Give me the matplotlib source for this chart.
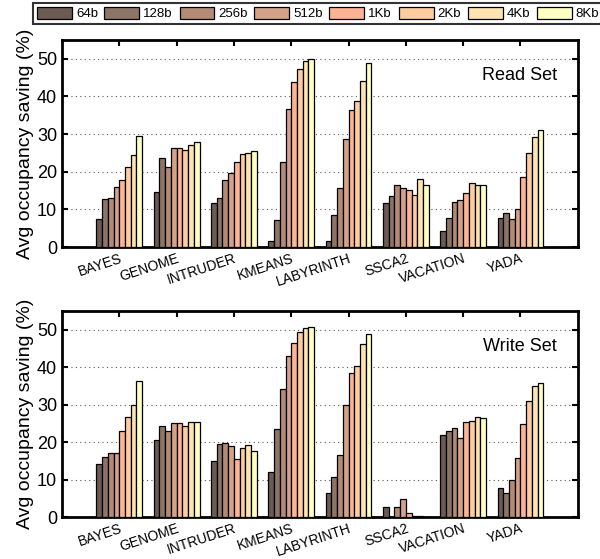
import matplotlib
matplotlib.use("Agg")
import matplotlib.pyplot as plt
import numpy as np

plt.rcParams["font.family"] = ["Liberation Sans", "DejaVu Sans"]

benchmarks = ["BAYES", "GENOME", "INTRUDER", "KMEANS", "LABYRINTH", "SSCA2", "VACATION", "YADA"]
sizes = ["64b", "128b", "256b", "512b", "1Kb", "2Kb", "4Kb", "8Kb"]
colors = ["#6b5b53", "#8c7466", "#b38a74", "#d4a189", "#fdb494", "#fdcc9f", "#fde4b1", "#ffffc2"]

# rows: benchmark, columns: granularity
read_set = [
    [7.4, 12.7, 13.1, 16.0, 17.9, 21.4, 24.5, 29.4],
    [14.6, 23.6, 21.3, 26.2, 26.4, 25.7, 27.2, 27.8],
    [11.6, 13.1, 17.9, 19.8, 22.7, 24.8, 24.9, 25.6],
    [1.7, 7.3, 22.5, 36.7, 43.9, 47.4, 49.4, 50.0],
    [1.7, 8.6, 15.8, 28.6, 36.3, 38.8, 44.0, 48.8],
    [11.8, 13.5, 16.6, 15.8, 15.1, 13.9, 18.0, 16.6],
    [4.4, 7.8, 12.1, 12.5, 14.4, 16.9, 16.6, 16.4],
    [7.8, 9.1, 7.5, 10.1, 18.5, 25.1, 29.3, 31.1],
]
write_set = [
    [14.1, 16.1, 17.0, 17.2, 22.9, 26.7, 30.0, 36.3],
    [20.6, 24.2, 23.1, 25.0, 25.2, 24.3, 25.3, 25.3],
    [14.9, 19.5, 19.8, 19.0, 15.5, 18.5, 19.3, 17.5],
    [12.0, 23.5, 34.3, 42.9, 46.4, 49.3, 50.4, 50.8],
    [6.3, 10.8, 16.5, 30.0, 38.5, 40.4, 46.2, 48.9],
    [2.8, 0.0, 2.6, 4.8, 1.0, 0.2, 0.2, 0.1],
    [22.0, 23.0, 23.8, 21.0, 25.4, 25.7, 26.8, 26.4],
    [7.8, 6.4, 9.9, 15.7, 24.9, 31.0, 35.0, 35.9],
]

fig = plt.figure(figsize=(6.0, 5.59), dpi=100)
ax_read = fig.add_axes([0.1033, 0.558, 0.8597, 0.3704])
ax_write = fig.add_axes([0.1033, 0.0751, 0.8597, 0.3685])

x = np.arange(1, len(benchmarks) + 1)
width = 0.1


def draw_panel(ax, data, title):
    data = np.asarray(data)
    handles = []
    for j, size in enumerate(sizes):
        offs = (j - (len(sizes) - 1) / 2) * width
        h = ax.bar(x + offs, data[:, j], width, color=colors[j],
                   edgecolor="black", linewidth=0.9, label=size, zorder=3)
        handles.append(h)
    ax.set_xlim(0, 9)
    ax.set_ylim(0, 55)
    ax.set_yticks([0, 10, 20, 30, 40, 50])
    ax.yaxis.grid(True, linestyle=(0, (1, 3)), color="#555555", linewidth=0.8, zorder=0)
    ax.set_xticks(x)
    ax.set_xticklabels(benchmarks, rotation=18, ha="right", va="top",
                       rotation_mode="anchor", fontsize=10)
    ax.tick_params(axis="both", direction="in", top=True, right=True,
                   length=4, width=1.5, labelsize=13)
    ax.tick_params(axis="x", labelsize=10, pad=3)
    for sp in ax.spines.values():
        sp.set_linewidth(2)
    ax.text(0.96, 0.83, title, transform=ax.transAxes, ha="right", va="center", fontsize=13)
    ax.set_ylabel("Avg occupancy saving (%)", fontsize=14, labelpad=2)
    return handles


handles = draw_panel(ax_read, read_set, "Read Set")
draw_panel(ax_write, write_set, "Write Set")

leg = fig.legend(handles, sizes, loc="upper left", bbox_to_anchor=(0.055, 0.995),
                 ncol=8, fontsize=9.5, handlelength=2.65, handleheight=1.0,
                 handletextpad=0.3, columnspacing=0.5, borderpad=0.3,
                 frameon=True, fancybox=False, borderaxespad=0)
leg.get_frame().set_edgecolor("black")
leg.get_frame().set_linewidth(1.5)

fig.savefig("out.png", dpi=100)
